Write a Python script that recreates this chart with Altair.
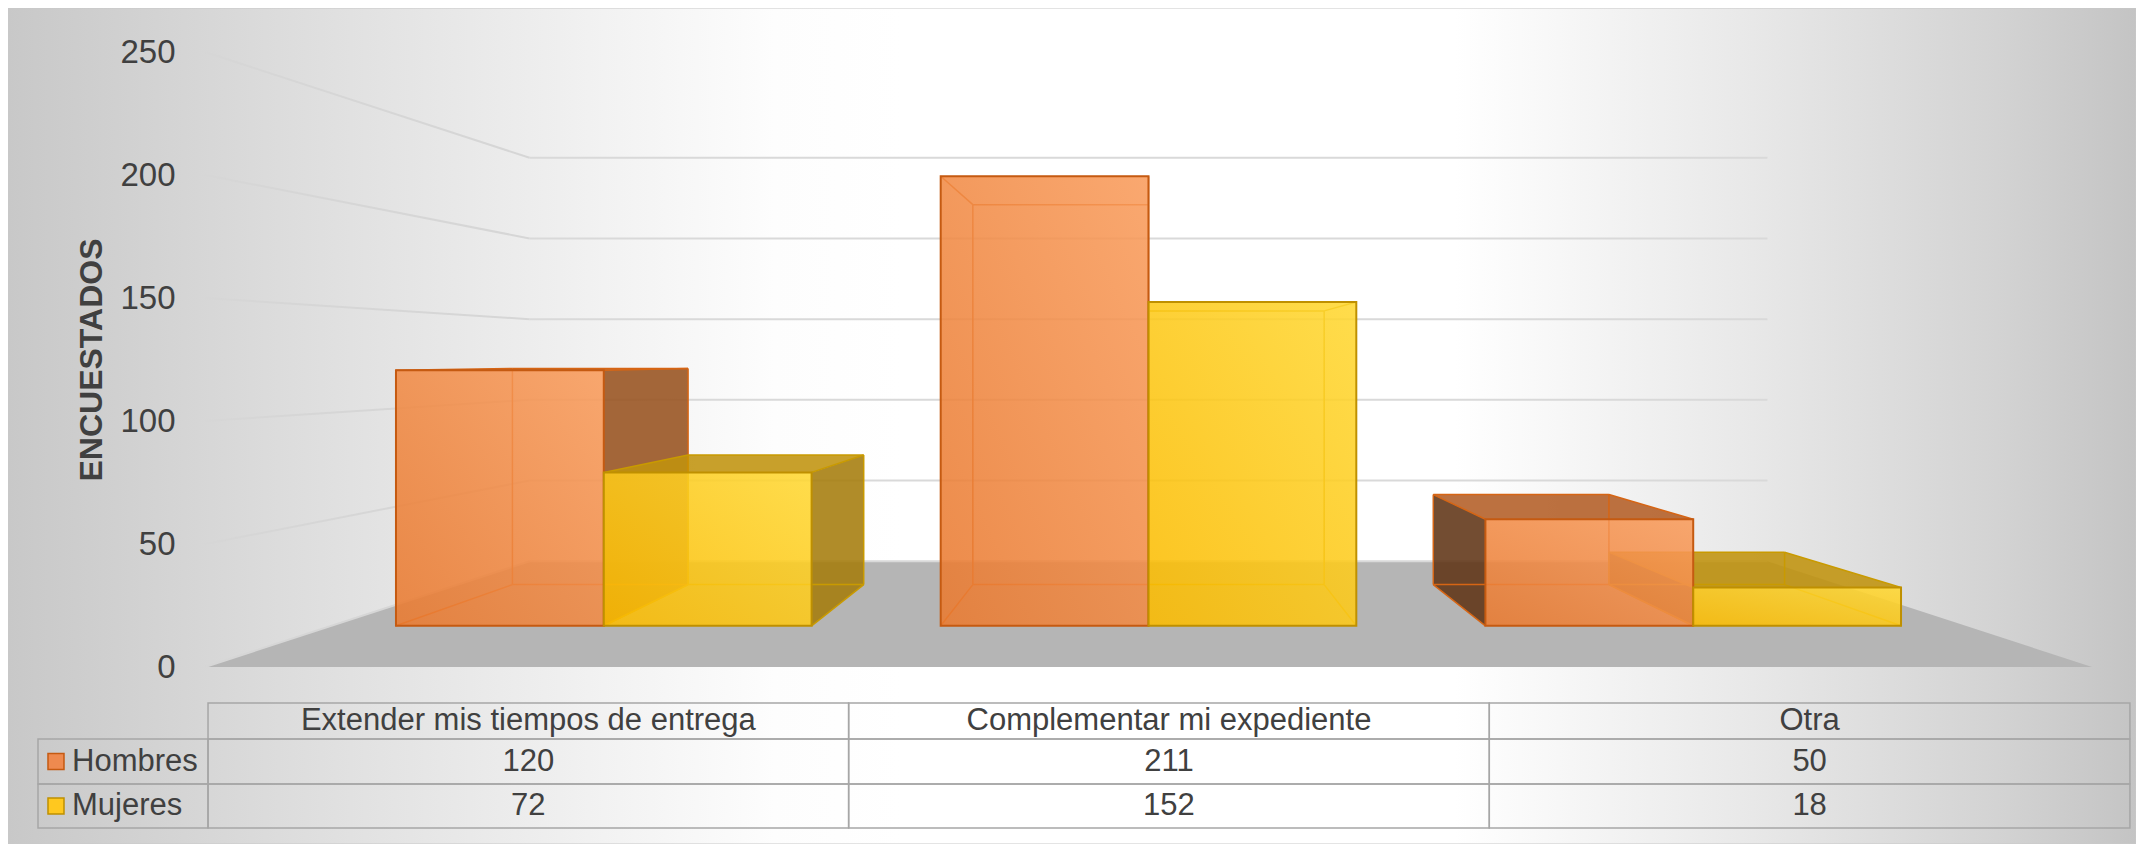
import altair as alt
import pandas as pd

# ---------------- data ----------------
categories = ["Extender mis tiempos de entrega", "Complementar mi expediente", "Otra"]
series = ["Hombres", "Mujeres"]
hombres = [120, 211, 50]
mujeres = [72, 152, 18]
y_ticks = [0, 50, 100, 150, 200, 250]

# ---------------- 3D projection settings (layout, not data) ----------------
VP_U, VP_V = 1.5, 125.0          # vanishing point in (category units, value units)
S_FRONT, S_BACK, S_WALL = 0.866, 0.732, 0.656
GROUP_PAD = 0.1185
N = len(categories)

FONT = "Liberation Sans"
TXT = "#404040"

styles = {
    "Hombres": dict(f0="#E97A30", f1="#F99C5C", stroke="#C55A11", edge="#D66514",
                    top="#B35D26", right="#97521F", left="#603416", legend="#EE8A4F"),
    "Mujeres": dict(f0="#FBBB00", f1="#FFD833", stroke="#BF9000", edge="#C99A00",
                    top="#C0930E", right="#A57C0B", left="#7A5C08", legend="#FFC81F"),
}


def pu(u, s):
    return VP_U + (u - VP_U) * s


def pv(v, s):
    return VP_V + (v - VP_V) * s


values = {"Hombres": hombres, "Mujeres": mujeres}
boxes = []
for i, cat in enumerate(categories):
    for j, ser in enumerate(series):
        u0 = i + GROUP_PAD + j * (0.5 - GROUP_PAD)
        u1 = u0 + (0.5 - GROUP_PAD)
        boxes.append(dict(cat=cat, ser=ser, v=values[ser][i], u0=u0, u1=u1, key=f"{i}-{j}"))

side_rows, top_rows, edge_rows, front_rows = [], [], [], []
for b in boxes:
    st = styles[b["ser"]]
    v = b["v"]
    us = None
    if b["u1"] < VP_U - 1e-9:
        us, col = b["u1"], st["right"]
    elif b["u0"] > VP_U + 1e-9:
        us, col = b["u0"], st["left"]
    if us is not None:
        for s in (S_FRONT, S_BACK):
            side_rows.append(dict(face=b["key"], x=pu(us, s), y=pv(0, s), y2=pv(v, s), fill=col))
    if v < VP_V:
        for s in (S_FRONT, S_BACK):
            top_rows.append(dict(face=b["key"], y=pv(v, s), x=pu(b["u0"], s), x2=pu(b["u1"], s), fill=st["top"]))

    def corners(s):
        return [(pu(b["u0"], s), pv(0, s)), (pu(b["u1"], s), pv(0, s)),
                (pu(b["u1"], s), pv(v, s)), (pu(b["u0"], s), pv(v, s))]
    fc, bc = corners(S_FRONT), corners(S_BACK)
    for k in range(4):
        a, c = bc[k], bc[(k + 1) % 4]
        edge_rows.append(dict(x=a[0], y=a[1], x2=c[0], y2=c[1], col=st["edge"]))
        edge_rows.append(dict(x=fc[k][0], y=fc[k][1], x2=bc[k][0], y2=bc[k][1], col=st["edge"]))
    front_rows.append(dict(ser=b["ser"], x=pu(b["u0"], S_FRONT), x2=pu(b["u1"], S_FRONT),
                           y=pv(0, S_FRONT), y2=pv(v, S_FRONT)))

side_df = pd.DataFrame(side_rows)
top_df = pd.DataFrame(top_rows)
edge_df = pd.DataFrame(edge_rows)
front_df = pd.DataFrame(front_rows)

floor_df = pd.DataFrame([
    dict(y=pv(0, 1.0), x=pu(0, 1.0), x2=pu(N, 1.0)),
    dict(y=pv(0, S_WALL), x=pu(0, S_WALL), x2=pu(N, S_WALL)),
])
back_wall_df = pd.DataFrame([dict(x=pu(0, S_WALL), x2=pu(N, S_WALL), y=pv(t, S_WALL), y2=pv(t, S_WALL)) for t in y_ticks])
left_wall_df = pd.DataFrame([dict(x=pu(0, 1.0), x2=pu(0, S_WALL), y=pv(t, 1.0), y2=pv(t, S_WALL)) for t in y_ticks])

# ---------------- scales ----------------
W, H = 1887, 615
PAD = dict(left=197, top=44, right=44, bottom=177)
X = alt.Scale(domain=[0, N], nice=False, zero=False)
Y = alt.Scale(domain=[0, 250], nice=False, zero=False)
YAX = alt.Axis(values=y_ticks, title="ENCUESTADOS", grid=False, ticks=False, orient="left",
               domain=False, labelFontSize=33, labelFont=FONT, labelColor=TXT,
               labelPadding=30, titleFont=FONT, titleFontSize=32, zindex=2,
               titleFontWeight="bold", titleColor=TXT, titlePadding=11)


def xe(field="x:Q"):
    return alt.X(field, scale=X, axis=None)


def ye(field="y:Q"):
    return alt.Y(field, scale=Y, axis=YAX)


bg = alt.Chart(pd.DataFrame({"a": [0]})).mark_rect(
    fill=alt.Gradient(gradient="linear", x1=0, y1=0.5, x2=1, y2=0.5,
                      stops=[alt.GradientStop(color="#c8c8c8", offset=0),
                             alt.GradientStop(color="#dedede", offset=0.14),
                             alt.GradientStop(color="#f2f2f2", offset=0.28),
                             alt.GradientStop(color="#fdfdfd", offset=0.36),
                             alt.GradientStop(color="#ffffff", offset=0.42),
                             alt.GradientStop(color="#ffffff", offset=0.68),
                             alt.GradientStop(color="#e8e8e8", offset=0.82),
                             alt.GradientStop(color="#d2d2d2", offset=0.94),
                             alt.GradientStop(color="#c4c4c4", offset=1)]),
    stroke="#c8c8c8", strokeWidth=1,
).encode(x=alt.value(-PAD["left"]), x2=alt.value(W + PAD["right"]),
         y=alt.value(-PAD["top"]), y2=alt.value(H + PAD["bottom"]))

floor = alt.Chart(floor_df).mark_area(orient="horizontal", color="#b5b5b5").encode(
    y=ye(), x=xe(), x2="x2:Q")

back_wall = alt.Chart(back_wall_df).mark_rule(color="#d9d9d9", strokeWidth=2).encode(
    x=xe(), x2="x2:Q", y=ye(), y2="y2:Q")
left_wall = alt.Chart(left_wall_df).mark_rule(color="#d6d6d6", strokeWidth=2).encode(
    x=xe(), x2="x2:Q", y=ye(), y2="y2:Q")

sides = alt.Chart(side_df).mark_area(orient="vertical", fillOpacity=0.88).encode(
    x=xe(), y=ye(), y2="y2:Q", detail="face:N", fill=alt.Fill("fill:N", scale=None))
tops = alt.Chart(top_df).mark_area(orient="horizontal", fillOpacity=0.88).encode(
    y=ye(), x=xe(), x2="x2:Q", detail="face:N", fill=alt.Fill("fill:N", scale=None))
edges = alt.Chart(edge_df).mark_rule(strokeWidth=1.5).encode(
    x=xe(), x2="x2:Q", y=ye(), y2="y2:Q", stroke=alt.Stroke("col:N", scale=None))


def front_layer(ser):
    st = styles[ser]
    return alt.Chart(front_df).transform_filter(alt.datum.ser == ser).mark_rect(
        fill=alt.Gradient(gradient="linear", x1=0, y1=1, x2=1, y2=0,
                          stops=[alt.GradientStop(color=st["f0"], offset=0),
                                 alt.GradientStop(color=st["f1"], offset=1)]),
        fillOpacity=0.88, stroke=st["stroke"], strokeWidth=2,
    ).encode(x=xe(), x2="x2:Q", y=ye(), y2="y2:Q")


# ---------------- data table (placed below the floor, same scales) ----------------
TABLE_X0, TABLE_COL = 0.0048, 1.0185                 # column layout in category units
LABEL_LEFT, SQUARE_X, LABEL_X = -0.2655, -0.2369, -0.2114
ROW_EDGES = [-14.6, -29.3, -47.6, -65.4]             # row layout in value units


def col(c):
    return TABLE_X0 + c * TABLE_COL


def rmid(r):
    return (ROW_EDGES[r] + ROW_EDGES[r + 1]) / 2


cells = []
for i in range(N):
    cells.append(dict(c0=col(i), c1=col(i + 1), r0=ROW_EDGES[0], r1=ROW_EDGES[1]))
for r in (1, 2):
    cells.append(dict(c0=LABEL_LEFT, c1=col(0), r0=ROW_EDGES[r], r1=ROW_EDGES[r + 1]))
    for i in range(N):
        cells.append(dict(c0=col(i), c1=col(i + 1), r0=ROW_EDGES[r], r1=ROW_EDGES[r + 1]))
cells_df = pd.DataFrame(cells)

texts = [dict(x=col(i + 0.5), y=rmid(0), t=c) for i, c in enumerate(categories)]
for r, ser in enumerate(series, start=1):
    for i in range(N):
        texts.append(dict(x=col(i + 0.5), y=rmid(r), t=str(values[ser][i])))
text_df = pd.DataFrame(texts)
lab_df = pd.DataFrame([dict(x=LABEL_X, y=rmid(r), t=s, sx=SQUARE_X, fill=styles[s]["legend"],
                            stroke=styles[s]["stroke"]) for r, s in enumerate(series, start=1)])

tcells = alt.Chart(cells_df).mark_rect(fillOpacity=0, stroke="#a6a6a6", strokeWidth=1.5).encode(
    x=xe("c0:Q"), x2="c1:Q", y=ye("r0:Q"), y2="r1:Q")
ttext = alt.Chart(text_df).mark_text(font=FONT, fontSize=31, color=TXT, baseline="middle", align="center").encode(
    x=xe(), y=ye(), text="t:N")
tlab = alt.Chart(lab_df).mark_text(font=FONT, fontSize=31, color=TXT, baseline="middle", align="left").encode(
    x=xe(), y=ye(), text="t:N")
tsq = alt.Chart(lab_df).mark_square(size=256, filled=True, strokeWidth=1.5, opacity=1).encode(
    x=xe("sx:Q"), y=ye(), fill=alt.Fill("fill:N", scale=None), stroke=alt.Stroke("stroke:N", scale=None))

chart = alt.layer(
    bg, floor, back_wall, left_wall, sides, tops, edges,
    front_layer("Hombres"), front_layer("Mujeres"),
    tcells, ttext, tlab, tsq,
).properties(
    width=W, height=H, padding=PAD, autosize=alt.AutoSizeParams(type="none"),
    background="white",
).configure_view(strokeWidth=0)

chart.save("out.html", embed_options={"renderer": "svg", "actions": False})
